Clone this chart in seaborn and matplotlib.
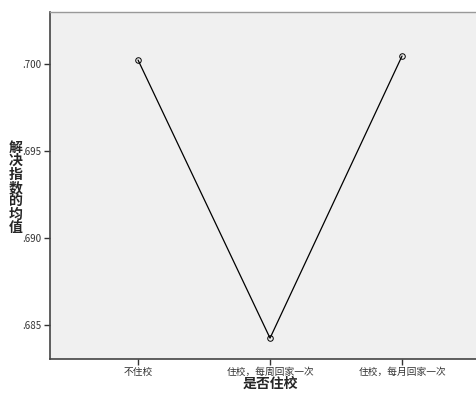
import numpy as np
import pandas as pd
import seaborn as sns
import matplotlib.pyplot as plt
from matplotlib.ticker import FuncFormatter

# data
categories = ['不住校', '住校，每周回家一次', '住校，每月回家一次']
mean_values = [0.70023, 0.68425, 0.70046]

df = pd.DataFrame({'group': categories, 'mean': mean_values})

sns.set_style('white')
plt.rcParams['font.family'] = ['Noto Sans CJK SC', 'DejaVu Sans']

fig = plt.figure(figsize=(4.77, 3.94), dpi=100)
ax = fig.add_axes([50 / 477, 35 / 394, 427 / 477, 347 / 394])
ax.set_facecolor('#f0f0f0')

sns.pointplot(data=df, x='group', y='mean', ax=ax, color='black',
              markers='o', linestyles='-', linewidth=0.9, markersize=4,
              markerfacecolor='none', markeredgewidth=0.7, errorbar=None)

ax.set_xlim(-0.667, 2.568)
ax.set_ylim(0.68305, 0.70299)
ax.set_yticks([0.685, 0.690, 0.695, 0.700])
ax.yaxis.set_major_formatter(FuncFormatter(lambda v, p: f'{v:.3f}'.lstrip('0')))

ax.tick_params(axis='both', direction='out', length=4, width=1, color='#333333',
               labelsize=7, labelcolor='#333333', left=True, bottom=True, pad=2)
for lbl in ax.get_xticklabels():
    lbl.set_fontsize(7)

for s in ['left', 'bottom']:
    ax.spines[s].set_color('#444444')
    ax.spines[s].set_linewidth(1.2)
ax.spines['top'].set_color('#999999')
ax.spines['top'].set_linewidth(1)
ax.spines['right'].set_visible(False)

ax.set_xlabel('')
ax.set_ylabel('')
fig.text(270 / 477, 1 - 384 / 394, '是否住校', fontsize=10, fontweight='bold',
         ha='center', va='center')
fig.text(16 / 477, 1 - 188 / 394, '\n'.join('解决指数的均值'), fontsize=10,
         fontweight='bold', ha='center', va='center', linespacing=0.95)

plt.savefig('out.png', dpi=100)
